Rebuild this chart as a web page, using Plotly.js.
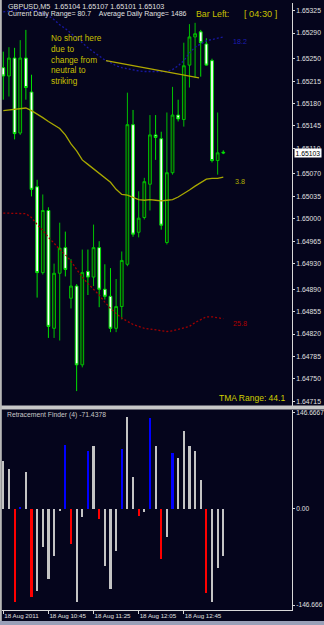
<!DOCTYPE html>
<html><head><meta charset="utf-8">
<script src="https://cdn.plot.ly/plotly-3.0.1.min.js"></script>
<style>html,body{margin:0;padding:0;background:#05051c;overflow:hidden}#chart{width:324px;height:625px}</style>
</head><body><div id="chart"></div>
<script>
// ---- data ----
const times = ['10:05','10:10','10:15','10:20','10:25','10:30','10:35','10:40','10:45','10:50',
  '10:55','11:00','11:05','11:10','11:15','11:20','11:25','11:30','11:35','11:40',
  '11:45','11:50','11:55','12:00','12:05','12:10','12:15','12:20','12:25','12:30',
  '12:35','12:40','12:45','12:50','12:55','13:00','13:05','13:10','13:15','13:20'];
const opens = [1.65236,1.65223,1.65251,1.65134,1.65251,1.65198,1.65050,1.64916,1.65013,1.64829,
  1.64915,1.64955,1.64876,1.64895,1.64772,1.64918,1.64909,1.64955,1.64890,1.64879,
  1.64829,1.64863,1.64929,1.65147,1.64979,1.65002,1.65054,1.65131,1.65125,1.64963,
  1.65072,1.65162,1.65155,1.65240,1.65284,1.65292,1.65273,1.65247,1.65091,1.65104];
const highs = [1.65261,1.65268,1.65267,1.65279,1.65295,1.65225,1.65061,1.65038,1.65018,1.64930,
  1.64994,1.64980,1.64937,1.64898,1.64952,1.64952,1.64991,1.64965,1.64929,1.64923,
  1.64906,1.64949,1.65197,1.65170,1.65043,1.65064,1.65162,1.65162,1.65136,1.65166,
  1.65206,1.65186,1.65275,1.65304,1.65306,1.65295,1.65282,1.65250,1.65166,1.65107];
const lows = [1.65186,1.65191,1.65124,1.65131,1.65186,1.65035,1.64877,1.64913,1.64814,1.64814,
  1.64810,1.64910,1.64860,1.64731,1.64768,1.64881,1.64895,1.64862,1.64874,1.64823,
  1.64823,1.64843,1.64926,1.64972,1.64971,1.64999,1.65013,1.65092,1.64983,1.64960,
  1.65069,1.65152,1.65144,1.65205,1.65220,1.65222,1.65239,1.65088,1.65069,1.65101];
const closes = [1.65223,1.65251,1.65133,1.65251,1.65205,1.65046,1.64916,1.65013,1.64832,1.64915,
  1.64954,1.64921,1.64895,1.64772,1.64916,1.64909,1.64955,1.64890,1.64879,1.64829,
  1.64863,1.64935,1.65147,1.64976,1.65001,1.65058,1.65131,1.65127,1.64990,1.65072,
  1.65162,1.65156,1.65239,1.65284,1.65289,1.65275,1.65240,1.65091,1.65103,1.65103];
const tmaMid = [1.65169,1.65170,1.65171,1.65172,1.65173,1.65169,1.65164,1.65158,1.65152,1.65147,
  1.65141,1.65131,1.65117,1.65106,1.65092,1.65085,1.65078,1.65072,1.65064,1.65057,
  1.65046,1.65038,1.65037,1.65033,1.65030,1.65029,1.65030,1.65029,1.65028,1.65029,
  1.65030,1.65034,1.65039,1.65045,1.65051,1.65057,1.65062,1.65063,1.65063,1.65065];
const tmaUpper = [1.65323,1.65325,1.65326,1.65327,1.65327,1.65326,1.65325,1.65321,1.65317,1.65311,
  1.65303,1.65297,1.65290,1.65282,1.65275,1.65267,1.65261,1.65254,1.65248,1.65244,
  1.65239,1.65236,1.65234,1.65233,1.65231,1.65230,1.65230,1.65230,1.65229,1.65230,
  1.65233,1.65239,1.65247,1.65259,1.65268,1.65273,1.65278,1.65280,1.65282,1.65284];
const tmaLower = [1.65009,1.65009,1.65008,1.65008,1.65008,1.65002,1.64991,1.64982,1.64971,1.64962,
  1.64952,1.64944,1.64934,1.64921,1.64909,1.64899,1.64890,1.64881,1.64870,1.64860,
  1.64852,1.64845,1.64840,1.64835,1.64832,1.64829,1.64828,1.64827,1.64825,1.64824,
  1.64825,1.64827,1.64829,1.64832,1.64838,1.64842,1.64847,1.64847,1.64846,1.64844];
const retrValues = [73,61,-141.6,3,56,-134,-125,-57.6,-107,-72,
  -3,97.8,-53.5,-141.6,-11.7,88.6,95.8,-14.8,-87,-122,
  -64,91.7,140,49.4,-10,-4,139.5,96.7,-76,-43,
  85.6,77.5,119,96,88,44,-128,-141.6,-89.7,-71.4378];
const retrState = ['n','n','r','b','n','r','n','n','n','n',
  'n','b','r','n','n','b','n','r','n','n',
  'n','b','n','n','r','n','b','n','r','n',
  'b','n','n','n','n','n','r','n','n','n'];
const priceTicks = [1.65325,1.65290,1.65250,1.65215,1.65180,1.65145,1.65110,1.65070,1.65035,
  1.65000,1.64965,1.64930,1.64890,1.64855,1.64820,1.64785,1.64750,1.64715];
const retrTicks = [146.6667,0,-146.666];
const retrTickText = ['146.6667','0.00','-146.666'];
const timeTickVals = ['10:05','10:45','11:25','12:05','12:45'];
const timeTickText = ['18 Aug 2011','18 Aug 10:45','18 Aug 11:25','18 Aug 12:05','18 Aug 12:45'];
const trendLine = {x: [18.2, 34.7], y: [1.65247, 1.65220]};

// ---- styling ----
const W = 324, H = 625;
const px = v => v / W;
const py = v => 1 - v / H;
const BG = '#05051c';
const stateColor = {n: '#c4c4c4', b: '#0000ff', r: '#ff0000'};
const FONT = 'Liberation Sans, Arial, sans-serif';

const traces = [
  {type: 'candlestick', x: times, open: opens, high: highs, low: lows, close: closes,
   xaxis: 'x', yaxis: 'y', hoverinfo: 'skip', whiskerwidth: 0,
   increasing: {line: {color: '#00c000', width: 1}, fillcolor: '#0a2a0a'},
   decreasing: {line: {color: '#00e000', width: 1}, fillcolor: '#ffffff'}},
  {type: 'scatter', mode: 'lines', x: times, y: tmaMid, yaxis: 'y', hoverinfo: 'skip',
   line: {color: '#a8a800', width: 1.3}},
  {type: 'scatter', mode: 'lines', x: times, y: tmaUpper, yaxis: 'y', hoverinfo: 'skip',
   line: {color: '#1818a0', width: 1.3, dash: '2px,2px'}},
  {type: 'scatter', mode: 'lines', x: times, y: tmaLower, yaxis: 'y', hoverinfo: 'skip',
   line: {color: '#a00000', width: 1.3, dash: '2px,2px'}},
  {type: 'bar', x: times, y: retrValues, xaxis: 'x', yaxis: 'y2', hoverinfo: 'skip',
   width: 0.38, marker: {color: retrState.map(s => stateColor[s]), line: {width: 0}}}
];

const last = closes.length - 1;
const hdr = 'GBPUSD,M5\u00a0\u00a0' + [opens[last], highs[last], lows[last], closes[last]].map(v => v.toFixed(5)).join(' ');

const annotations = [
  {xref: 'paper', yref: 'paper', x: px(6), y: py(6), xanchor: 'left', yanchor: 'middle', showarrow: false,
   text: hdr, font: {family: FONT, size: 7.2, color: '#e0e0e0'}},
  {xref: 'paper', yref: 'paper', x: px(6), y: py(14), xanchor: 'left', yanchor: 'middle', showarrow: false,
   text: 'Current Daily Range= 80.7\u00a0\u00a0\u00a0\u00a0Average Daily Range= 1486', font: {family: FONT, size: 7, color: '#e0e0e0'}},
  {xref: 'paper', yref: 'paper', x: px(194), y: py(14), xanchor: 'left', yanchor: 'middle', showarrow: false,
   text: 'Bar Left:', font: {family: FONT, size: 8.8, color: '#c8c000'}},
  {xref: 'paper', yref: 'paper', x: px(242), y: py(14), xanchor: 'left', yanchor: 'middle', showarrow: false,
   text: '[ 04:30 ]', font: {family: FONT, size: 9.2, color: '#c8c000'}},
  {xref: 'paper', yref: 'paper', x: px(49), y: py(59), xanchor: 'left', yanchor: 'middle', align: 'left', showarrow: false,
   text: 'No short here<br>due to<br>change from<br>neutral to<br>striking', font: {family: FONT, size: 8.3, color: '#c8c000'}},
  {xref: 'x', yref: 'y', x: 41.9, y: 1.65277, xanchor: 'center', yanchor: 'middle', showarrow: false,
   text: '18.2', font: {family: FONT, size: 7.2, color: '#1c1cb0'}},
  {xref: 'x', yref: 'y', x: 41.9, y: 1.65058, xanchor: 'center', yanchor: 'middle', showarrow: false,
   text: '3.8', font: {family: FONT, size: 7.2, color: '#b0b000'}},
  {xref: 'x', yref: 'y', x: 41.9, y: 1.64837, xanchor: 'center', yanchor: 'middle', showarrow: false,
   text: '25.8', font: {family: FONT, size: 7.2, color: '#b00000'}},
  {xref: 'paper', yref: 'paper', x: px(287), y: py(398), xanchor: 'right', yanchor: 'middle', showarrow: false,
   text: 'TMA Range: 44.1', font: {family: FONT, size: 8.5, color: '#d0d000'}},
  {xref: 'paper', yref: 'paper', x: px(5), y: py(415.5), xanchor: 'left', yanchor: 'middle', showarrow: false,
   text: 'Retracement Finder (4) ' + retrValues[last].toFixed(4), font: {family: FONT, size: 6.8, color: '#c8c8c8'}},
  {xref: 'paper', yref: 'y', x: px(293.5), y: closes[last], xanchor: 'left', yanchor: 'middle', showarrow: false,
   text: closes[last].toFixed(5), bgcolor: '#ffffff', borderpad: 0.5, font: {family: FONT, size: 6.8, color: '#000000'}}
];

const shapes = [
  {type: 'line', xref: 'x', yref: 'y', x0: trendLine.x[0], x1: trendLine.x[1], y0: trendLine.y[0], y1: trendLine.y[1],
   line: {color: '#b0a800', width: 1.4}},
  {type: 'rect', xref: 'paper', yref: 'paper', x0: 0, x1: 1, y0: py(409.5), y1: py(405.5), fillcolor: '#c8c8c8', line: {width: 0}, layer: 'above'},
  {type: 'rect', xref: 'paper', yref: 'paper', x0: 0, x1: px(1.8), y0: 0, y1: 1, fillcolor: '#b8b8b8', line: {width: 0}, layer: 'above'},
  {type: 'rect', xref: 'paper', yref: 'paper', x0: 0, x1: 1, y0: py(625), y1: py(621), fillcolor: '#9aa0b8', line: {width: 0}, layer: 'above'}
];

const axisCommon = {showgrid: false, zeroline: false, showline: true, linecolor: '#d8d8d8', linewidth: 1,
  ticks: 'outside', ticklen: 2, tickcolor: '#d8d8d8', fixedrange: true};

const layout = {
  width: W, height: H, margin: {l: 0, r: 0, t: 0, b: 0},
  paper_bgcolor: BG, plot_bgcolor: BG, showlegend: false,
  font: {family: FONT, size: 7, color: '#e0e0e0'},
  xaxis: Object.assign({}, axisCommon, {domain: [px(2), px(292)], type: 'category', range: [-0.23, 51.18],
    anchor: 'y2', tickvals: timeTickVals, ticktext: timeTickText, ticklen: 3, tickangle: 0,
    ticklabelposition: 'outside right', tickfont: {family: FONT, size: 6.2, color: '#e0e0e0'},
    rangeslider: {visible: false}}),
  yaxis: Object.assign({}, axisCommon, {domain: [py(406), py(3)], range: [1.647077, 1.65337], side: 'right', anchor: 'x',
    tickvals: priceTicks, tickformat: '.5f', tickfont: {family: FONT, size: 6.8, color: '#e0e0e0'}}),
  yaxis2: Object.assign({}, axisCommon, {domain: [py(610), py(410)], range: [-154.3, 151.2], side: 'right', anchor: 'x',
    tickvals: retrTicks, ticktext: retrTickText, tickfont: {family: FONT, size: 6.6, color: '#e0e0e0'}}),
  bargap: 0,
  annotations: annotations,
  shapes: shapes
};

Plotly.newPlot('chart', traces, layout, {staticPlot: true, displayModeBar: false});
</script>
</body></html>
